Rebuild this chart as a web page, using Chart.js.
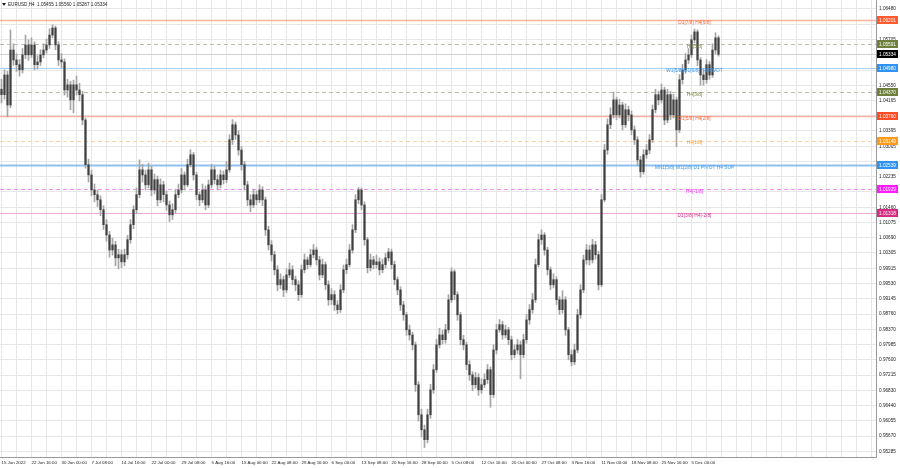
<!DOCTYPE html>
<html>
<head>
<meta charset="utf-8">
<script src="https://cdn.jsdelivr.net/npm/chart.js@4.4.0/dist/chart.umd.min.js"></script>
<style>
  html, body { margin: 0; padding: 0; background: #fff; }
</style>
</head>
<body>
<canvas id="priceChart" width="900" height="468"></canvas>
<script>
// EURUSD H4, each entry ~12h
const symbolTitle = 'EURUSD,H4';
const lastBar = ['1.05455', '1.05560', '1.05287', '1.05334'];
const firstOpen = 1.0445;

const closes = [
    1.0431, 1.0481, 1.0405, 1.0544, 1.0519, 1.0507, 1.0494, 1.0532, 1.0557, 1.0532,
    1.0557, 1.0507, 1.0514, 1.0532, 1.0544, 1.0557, 1.0582, 1.0600, 1.0557, 1.0519,
    1.0514, 1.0443, 1.0456, 1.0418, 1.0456, 1.0443, 1.0431, 1.0367, 1.0254, 1.0228,
    1.0190, 1.0178, 1.0165, 1.0140, 1.0102, 1.0076, 1.0038, 1.0051, 1.0018, 1.0026,
    1.0008, 1.0026, 1.0064, 1.0102, 1.0140, 1.0178, 1.0241, 1.0228, 1.0203, 1.0241,
    1.0190, 1.0216, 1.0165, 1.0203, 1.0178, 1.0152, 1.0127, 1.0140, 1.0178, 1.0190,
    1.0228, 1.0203, 1.0254, 1.0279, 1.0228, 1.0178, 1.0165, 1.0190, 1.0152, 1.0203,
    1.0241, 1.0216, 1.0203, 1.0228, 1.0216, 1.0241, 1.0317, 1.0355, 1.0329, 1.0291,
    1.0254, 1.0203, 1.0165, 1.0152, 1.0178, 1.0165, 1.0190, 1.0165, 1.0089, 1.0051,
    1.0026, 0.9988, 0.9950, 0.9963, 0.9937, 0.9975, 0.9988, 0.9963, 0.9950, 0.9925,
    0.9988, 1.0013, 1.0001, 1.0026, 1.0038, 1.0013, 0.9975, 1.0001, 0.9950, 0.9912,
    0.9925, 0.9899, 0.9887, 0.9937, 0.9988, 1.0001, 1.0038, 1.0089, 1.0165, 1.0190,
    1.0152, 1.0064, 0.9993, 1.0013, 1.0001, 1.0008, 0.9988, 1.0001, 1.0018, 1.0033,
    1.0001, 0.9963, 0.9937, 0.9899, 0.9874, 0.9836, 0.9823, 0.9798, 0.9697, 0.9621,
    0.9583, 0.9558, 0.9621, 0.9684, 0.9735, 0.9798, 0.9823, 0.9811, 0.9836, 0.9912,
    0.9983, 0.9925, 0.9874, 0.9811, 0.9798, 0.9748, 0.9722, 0.9697, 0.9715, 0.9684,
    0.9697, 0.9710, 0.9735, 0.9672, 0.9785, 0.9836, 0.9849, 0.9823, 0.9836, 0.9811,
    0.9773, 0.9785, 0.9798, 0.9773, 0.9811, 0.9861, 0.9887, 0.9912, 1.0001, 1.0064,
    1.0076, 1.0038, 0.9988, 0.9950, 0.9963, 0.9912, 0.9887, 0.9912, 0.9836, 0.9773,
    0.9755, 0.9785, 0.9874, 0.9937, 1.0013, 1.0038, 1.0013, 1.0051, 1.0026, 0.9950,
    1.0165, 1.0291, 1.0355, 1.0380, 1.0418, 1.0380, 1.0405, 1.0355, 1.0393, 1.0380,
    1.0342, 1.0317, 1.0266, 1.0236, 1.0279, 1.0291, 1.0317, 1.0393, 1.0431, 1.0418,
    1.0443, 1.0367, 1.0431, 1.0380, 1.0418, 1.0342, 1.0469, 1.0494, 1.0519, 1.0532,
    1.0570, 1.0590, 1.0519, 1.0481, 1.0469, 1.0507, 1.0481, 1.0544, 1.0575, 1.05334
];

const highs = [
    1.0470, 1.0494, 1.0490, 1.0595, 1.0560, 1.0535, 1.0520, 1.0548, 1.0582, 1.0570,
    1.0575, 1.0565, 1.0530, 1.0545, 1.0560, 1.0572, 1.0598, 1.0608, 1.0605, 1.0565,
    1.0535, 1.0522, 1.0470, 1.0465, 1.0468, 1.0478, 1.0460, 1.0440, 1.0372, 1.0268,
    1.0240, 1.0205, 1.0190, 1.0175, 1.0150, 1.0115, 1.0085, 1.0068, 1.0060, 1.0040,
    1.0038, 1.0040, 1.0075, 1.0115, 1.0150, 1.0195, 1.0266, 1.0255, 1.0240, 1.0258,
    1.0250, 1.0230, 1.0225, 1.0218, 1.0212, 1.0188, 1.0162, 1.0155, 1.0192, 1.0205,
    1.0245, 1.0236, 1.0268, 1.0292, 1.0285, 1.0235, 1.0185, 1.0205, 1.0200, 1.0215,
    1.0255, 1.0250, 1.0228, 1.0240, 1.0238, 1.0262, 1.0330, 1.0368, 1.0362, 1.0340,
    1.0300, 1.0262, 1.0212, 1.0178, 1.0192, 1.0188, 1.0203, 1.0198, 1.0172, 1.0098,
    1.0062, 1.0035, 0.9998, 0.9978, 0.9972, 0.9990, 1.0005, 0.9998, 0.9972, 0.9960,
    1.0000, 1.0028, 1.0020, 1.0040, 1.0052, 1.0045, 1.0022, 1.0015, 1.0008, 0.9960,
    0.9940, 0.9935, 0.9910, 0.9950, 1.0000, 1.0015, 1.0052, 1.0102, 1.0178, 1.0196,
    1.0195, 1.0160, 1.0070, 1.0028, 1.0022, 1.0025, 1.0018, 1.0015, 1.0030, 1.0042,
    1.0040, 1.0010, 0.9970, 0.9945, 0.9908, 0.9880, 0.9848, 0.9830, 0.9805, 0.9705,
    0.9635, 0.9595, 0.9635, 0.9698, 0.9748, 0.9812, 0.9840, 0.9835, 0.9850, 0.9925,
    0.9993, 0.9988, 0.9932, 0.9880, 0.9822, 0.9805, 0.9758, 0.9730, 0.9728, 0.9725,
    0.9712, 0.9725, 0.9748, 0.9742, 0.9798, 0.9850, 0.9862, 0.9858, 0.9848, 0.9842,
    0.9820, 0.9798, 0.9812, 0.9808, 0.9825, 0.9875, 0.9900, 0.9928, 1.0015, 1.0078,
    1.0089, 1.0082, 1.0045, 0.9995, 0.9978, 0.9970, 0.9920, 0.9935, 0.9920, 0.9842,
    0.9785, 0.9800, 0.9888, 0.9950, 1.0025, 1.0052, 1.0050, 1.0065, 1.0060, 1.0035,
    1.0178, 1.0305, 1.0370, 1.0398, 1.0438, 1.0425, 1.0420, 1.0412, 1.0408, 1.0402,
    1.0390, 1.0352, 1.0325, 1.0275, 1.0292, 1.0305, 1.0330, 1.0405, 1.0445, 1.0440,
    1.0458, 1.0450, 1.0445, 1.0440, 1.0432, 1.0425, 1.0482, 1.0508, 1.0535, 1.0548,
    1.0582, 1.0597, 1.0595, 1.0525, 1.0492, 1.0520, 1.0515, 1.0560, 1.0588, 1.0580
];

const lows = [
    1.0410, 1.0420, 1.0375, 1.0398, 1.0505, 1.0490, 1.0478, 1.0486, 1.0522, 1.0518,
    1.0525, 1.0494, 1.0496, 1.0505, 1.0524, 1.0536, 1.0548, 1.0575, 1.0545, 1.0505,
    1.0498, 1.0430, 1.0425, 1.0393, 1.0385, 1.0430, 1.0415, 1.0355, 1.0245, 1.0210,
    1.0175, 1.0160, 1.0148, 1.0125, 1.0090, 1.0060, 1.0020, 1.0025, 0.9998, 0.9990,
    0.9993, 0.9998, 1.0015, 1.0055, 1.0092, 1.0130, 1.0170, 1.0210, 1.0190, 1.0195,
    1.0175, 1.0180, 1.0150, 1.0158, 1.0160, 1.0138, 1.0110, 1.0115, 1.0132, 1.0170,
    1.0182, 1.0190, 1.0198, 1.0248, 1.0215, 1.0165, 1.0150, 1.0158, 1.0140, 1.0145,
    1.0195, 1.0205, 1.0190, 1.0195, 1.0205, 1.0208, 1.0235, 1.0305, 1.0318, 1.0278,
    1.0240, 1.0190, 1.0150, 1.0135, 1.0145, 1.0152, 1.0158, 1.0150, 1.0075, 1.0038,
    1.0010, 0.9975, 0.9935, 0.9940, 0.9920, 0.9930, 0.9968, 0.9950, 0.9935, 0.9910,
    0.9918, 0.9980, 0.9990, 0.9995, 1.0018, 1.0000, 0.9962, 0.9968, 0.9938, 0.9898,
    0.9900, 0.9885, 0.9877, 0.9880, 0.9930, 0.9978, 0.9995, 1.0030, 1.0082, 1.0155,
    1.0140, 1.0050, 0.9980, 0.9985, 0.9990, 0.9992, 0.9975, 0.9980, 0.9992, 1.0010,
    0.9990, 0.9950, 0.9925, 0.9885, 0.9860, 0.9822, 0.9810, 0.9785, 0.9680, 0.9605,
    0.9565, 0.9538, 0.9550, 0.9612, 0.9675, 0.9728, 0.9790, 0.9800, 0.9802, 0.9828,
    0.9905, 0.9912, 0.9860, 0.9798, 0.9785, 0.9735, 0.9708, 0.9682, 0.9688, 0.9670,
    0.9675, 0.9690, 0.9700, 0.9640, 0.9665, 0.9775, 0.9830, 0.9812, 0.9815, 0.9798,
    0.9760, 0.9765, 0.9775, 0.9712, 0.9765, 0.9802, 0.9850, 0.9878, 0.9905, 0.9995,
    1.0052, 1.0025, 0.9975, 0.9938, 0.9942, 0.9900, 0.9875, 0.9878, 0.9822, 0.9760,
    0.9745, 0.9748, 0.9778, 0.9865, 0.9930, 1.0002, 1.0000, 1.0005, 1.0015, 0.9937,
    0.9945, 1.0160, 1.0280, 1.0345, 1.0372, 1.0368, 1.0372, 1.0342, 1.0348, 1.0365,
    1.0330, 1.0305, 1.0252, 1.0222, 1.0230, 1.0270, 1.0282, 1.0310, 1.0385, 1.0405,
    1.0410, 1.0355, 1.0360, 1.0368, 1.0372, 1.0300, 1.0335, 1.0458, 1.0485, 1.0510,
    1.0525, 1.0562, 1.0505, 1.0455, 1.0455, 1.0460, 1.0470, 1.0475, 1.0535, 1.05287
];

// one label every 10 bars
const dateLabels = [
    '15 Jun 2022', '22 Jun 16:00', '30 Jun 00:00', '7 Jul 08:00', '14 Jul 16:00',
    '22 Jul 00:00', '29 Jul 08:00', '5 Aug 16:00', '15 Aug 00:00', '22 Aug 08:00',
    '29 Aug 16:00', '6 Sep 00:00', '13 Sep 08:00', '20 Sep 16:00', '28 Sep 00:00',
    '5 Oct 08:00', '12 Oct 16:00', '20 Oct 00:00', '27 Oct 08:00', '3 Nov 16:00',
    '11 Nov 00:00', '18 Nov 08:00', '25 Nov 16:00', '5 Dec 00:00'
];

const priceTicks = [
    1.06480, 1.06095, 1.05705, 1.05320, 1.04935, 1.04550, 1.04165, 1.03780, 1.03395, 1.03005,
    1.02620, 1.02235, 1.01850, 1.01460, 1.01075, 1.00690, 1.00305, 0.99915, 0.99530, 0.99145,
    0.98760, 0.98370, 0.97985, 0.97600, 0.97215, 0.96830, 0.96440, 0.96055, 0.95670, 0.95285
];

const levelPrices = [1.06201, 1.05591, 1.04980, 1.04370, 1.03760, 1.03149, 1.02539, 1.01929, 1.01318];
const levelNames = [
    'D1[7/8] H4[6/8]', 'H4[5/8]', 'W1[5/8] D1[6/8] H4 PIVOT', 'H4[3/8]', 'D1[5/8] H4[2/8]',
    'H4[1/8]', 'MN1[5/8] W1[2/8] D1 PIVOT H4 SUP', 'H4[-1/8]', 'D1[3/8] H4[-2/8]'
];
const bidPrice = 1.05334;

// styles
const levelLineColors = ['#f9b49c', '#c4bcae', '#a9d1f6', '#c4bcae', '#f8b3a3', '#f9d2a8', '#8fc2f2', '#f293f2', '#eeaad6'];
const levelDashes = [[], [4, 3], [], [4, 3], [], [4, 3], [], [4, 3], []];
const levelWidths = [1.5, 1, 1.2, 1, 1.5, 1, 2, 1, 1];
const levelTextColors = ['#ff6a3d', '#76883e', '#3a98ee', '#76883e', '#ff6a3d', '#ff9f2e', '#3a98ee', '#ff2cff', '#d8308a'];
const levelBoxColors = ['#ff5a2c', '#6e7f3c', '#2f93f5', '#6e7f3c', '#ff4a26', '#ff9a18', '#2f93f5', '#ff1cff', '#d92a82'];
const levelTextBar = 231;
const FONT = '"Liberation Sans", Arial, sans-serif';

const opens = closes.map((c, i) => i === 0 ? firstOpen : closes[i - 1]);

function nearBox(v) {
    return levelPrices.concat([bidPrice]).some(p => Math.abs(p - v) < 0.0011);
}

function noPadding(scale) {
    scale.paddingLeft = 0;
    scale.paddingRight = 0;
    scale.paddingTop = 0;
    scale.paddingBottom = 0;
}

const overlayPlugin = {
    id: 'overlay',
    beforeDatasetsDraw(chart) {
        const { ctx, chartArea, scales } = chart;
        ctx.save();
        const by = Math.round(scales.y.getPixelForValue(bidPrice)) + 0.5;
        ctx.strokeStyle = '#d2d2d2';
        ctx.lineWidth = 1;
        ctx.beginPath();
        ctx.moveTo(chartArea.left, by);
        ctx.lineTo(chartArea.right, by);
        ctx.stroke();
        levelPrices.forEach((p, i) => {
            const y = Math.round(scales.y.getPixelForValue(p)) + 0.5;
            ctx.strokeStyle = levelLineColors[i];
            ctx.lineWidth = levelWidths[i];
            ctx.setLineDash(levelDashes[i]);
            ctx.beginPath();
            ctx.moveTo(chartArea.left, y);
            ctx.lineTo(chartArea.right, y);
            ctx.stroke();
        });
        ctx.restore();
    },
    afterDatasetsDraw(chart) {
        const { ctx, scales } = chart;
        const x = scales.x.getPixelForValue(levelTextBar);
        ctx.save();
        ctx.font = '4.8px ' + FONT;
        ctx.textAlign = 'center';
        ctx.textBaseline = 'middle';
        levelPrices.forEach((p, i) => {
            ctx.fillStyle = levelTextColors[i];
            ctx.fillText(levelNames[i], x, scales.y.getPixelForValue(p) + 2.5);
        });
        ctx.restore();
    },
    afterDraw(chart) {
        const { ctx, chartArea, scales } = chart;
        ctx.save();
        ctx.font = '4.7px ' + FONT;
        ctx.textBaseline = 'middle';
        const boxes = levelPrices.map((p, i) => [p, levelBoxColors[i]]).concat([[bidPrice, '#000']]);
        boxes.forEach(([p, color]) => {
            const y = Math.round(scales.y.getPixelForValue(p));
            ctx.fillStyle = color;
            ctx.fillRect(chartArea.right + 1, y - 4, 21, 8);
            ctx.fillStyle = '#fff';
            ctx.textAlign = 'left';
            ctx.fillText(p.toFixed(5), chartArea.right + 3, y + 0.5);
        });
        // header
        ctx.fillStyle = '#222';
        ctx.beginPath();
        ctx.moveTo(2, 3);
        ctx.lineTo(6, 3);
        ctx.lineTo(4, 6);
        ctx.closePath();
        ctx.fill();
        ctx.font = '4.6px ' + FONT;
        ctx.textAlign = 'left';
        ctx.fillText(symbolTitle + '  ' + lastBar.join(' '), 8, 4.5);
        ctx.restore();
    }
};

const ctx = document.getElementById('priceChart').getContext('2d');
new Chart(ctx, {
    type: 'bar',
    data: {
        datasets: [
            {
                label: 'bodies',
                data: closes.map((c, i) => ({ x: i, y: [opens[i], c] })),
                backgroundColor: '#404040',
                barThickness: 1.5,
                minBarLength: 1,
                grouped: false,
                order: 0
            },
            {
                label: 'wicks',
                data: highs.map((h, i) => ({ x: i, y: [lows[i], h] })),
                backgroundColor: '#a5a5a5',
                barThickness: 1,
                grouped: false,
                order: 1
            }
        ]
    },
    options: {
        responsive: false,
        animation: false,
        devicePixelRatio: 1,
        layout: { padding: 0 },
        plugins: {
            legend: { display: false },
            tooltip: { enabled: false }
        },
        scales: {
            x: {
                type: 'linear',
                offset: false,
                min: -0.5,
                max: 291.5,
                afterBuildTicks: scale => {
                    const t = [];
                    for (let v = 0; v <= 290; v += 5) t.push({ value: v });
                    scale.ticks = t;
                },
                afterFit: scale => { scale.height = 11; noPadding(scale); },
                ticks: {
                    autoSkip: false,
                    maxRotation: 0,
                    align: 'start',
                    padding: 3,
                    color: '#222',
                    font: { family: FONT, size: 4.4 },
                    callback: v => (v % 10 === 0 && dateLabels[v / 10]) ? dateLabels[v / 10] : ''
                },
                grid: { color: '#e7e7e7', drawTicks: false, offset: false },
                border: { display: true, color: '#999' }
            },
            y: {
                type: 'linear',
                position: 'right',
                min: 0.95141,
                max: 1.06707,
                afterBuildTicks: scale => { scale.ticks = priceTicks.map(v => ({ value: v })); },
                afterFit: scale => { scale.width = 24; noPadding(scale); },
                ticks: {
                    padding: 3,
                    color: '#222',
                    font: { family: FONT, size: 4.7 },
                    callback: v => nearBox(v) ? '' : v.toFixed(5)
                },
                grid: { color: '#e7e7e7', drawTicks: false },
                border: { display: true, color: '#999' }
            }
        }
    },
    plugins: [overlayPlugin]
});
</script>
</body>
</html>
